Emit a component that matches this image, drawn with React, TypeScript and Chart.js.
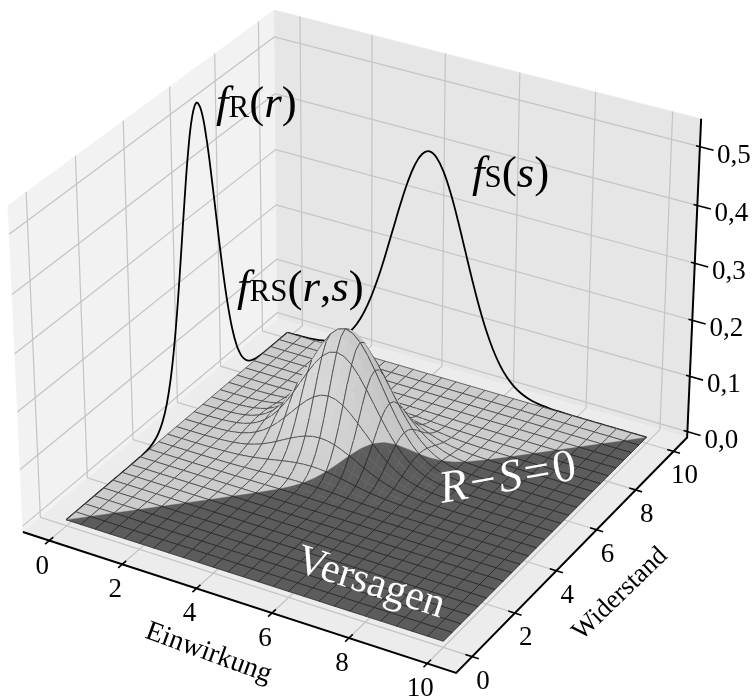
import React, { useEffect, useRef } from "react";
import { Chart, registerables } from "chart.js";

Chart.register(...registerables);

const WIDTH = 755;
const HEIGHT = 700;

const fR = [
  0, 0, 0, 0, 0, 0, 0, 0, 0, 0, 0, 0, 0, 0,
  0.0001, 0.0002, 0.0005, 0.0013, 0.0032, 0.0072,
  0.0152, 0.0299, 0.0546, 0.0931, 0.1479, 0.2187, 0.3012, 0.3862, 0.4614, 0.5133,
  0.5319, 0.5133, 0.4614, 0.3862, 0.3012, 0.2187, 0.1479, 0.0931, 0.0546, 0.0299,
  0.0152, 0.0072, 0.0032, 0.0013, 0.0005, 0.0002, 0.0001, 0, 0, 0, 0,
];
const fS = [
  0.0001, 0.0003, 0.0006, 0.0012, 0.0024, 0.0044, 0.0079, 0.0136, 0.0224, 0.0355,
  0.054, 0.079, 0.1109, 0.1497, 0.1942, 0.242, 0.2897, 0.3332, 0.3683, 0.391,
  0.3989, 0.391, 0.3683, 0.3332, 0.2897, 0.242, 0.1942, 0.1497, 0.1109, 0.079,
  0.054, 0.0355, 0.0224, 0.0136, 0.0079, 0.0044, 0.0024, 0.0012, 0.0006, 0.0003,
  0.0001, 0, 0, 0, 0, 0, 0, 0, 0, 0, 0,
];
const sampleStep = 0.2;

const xTicks = [0, 2, 4, 6, 8, 10];
const yTicks = [0, 2, 4, 6, 8, 10];
const zTicks = [0, 0.1, 0.2, 0.3, 0.4, 0.5];
const zTickLabels = ["0,0", "0,1", "0,2", "0,3", "0,4", "0,5"];

const xLim = [-0.729, 10.729];
const yLim = [-0.729, 10.729];
const zLim = [-0.0106, 0.547];

// View of the 3D box
const boxHalf = 0.5715;
const boxHalfZ = 0.4285;
const dist = 10;
const U = [0.866, 0.5, 0];
const V = [-0.25, 0.433, 0.866];
const N = [0.433, -0.75, 0.5];
const SCALE = 434.4;
const OX = 360.9;
const OY = 326.1;

const rel = (x: number, y: number, z: number) => [
  ((x - xLim[0]) / (xLim[1] - xLim[0])) * 2 * boxHalf - boxHalf,
  ((y - yLim[0]) / (yLim[1] - yLim[0])) * 2 * boxHalf - boxHalf,
  ((z - zLim[0]) / (zLim[1] - zLim[0])) * 2 * boxHalfZ - boxHalfZ,
];
const dot = (a: number[], b: number[]) => a[0] * b[0] + a[1] * b[1] + a[2] * b[2];
const depth = (x: number, y: number, z: number) => dot(rel(x, y, z), N);
const proj = (x: number, y: number, z: number) => {
  const p = rel(x, y, z);
  const w = 1 - dot(p, N) / dist;
  return { x: OX + (SCALE * dot(p, U)) / w, y: OY - (SCALE * dot(p, V)) / w };
};

type Pt = { x: number; y: number };

function lineDs(data: Pt[], color: string, width: number, extra: any = {}) {
  return {
    data,
    showLine: true,
    borderColor: color,
    borderWidth: width,
    pointRadius: 0,
    fill: false,
    clip: false,
    ...extra,
  };
}
function polyDs(data: Pt[], fill: string, stroke: string, width: number) {
  return lineDs(data, stroke, width, { fill: "shape", backgroundColor: fill, borderJoinStyle: "round" });
}

const GRID = "#c4c4c4";
const GRID_W = 1.2;
const LIGHT = 204;
const DARK = 92;
const EDGE = "rgba(20,20,20,0.72)";
const EDGE_W = 0.8;
const FLAT_LIMIT = 0.004;

function shadeOf(base: number, dzdx: number, dzdy: number) {
  const s = (0.667 * dzdx + 0.667 * dzdy + 0.333) / Math.sqrt(dzdx * dzdx + dzdy * dzdy + 1);
  const f = (0.3 + 0.35 * (s + 1)) / (0.3 + 0.35 * 1.333);
  const v = Math.round(Math.min(255, base * f));
  return `rgb(${v},${v},${v})`;
}

function buildDatasets() {
  const back: any[] = [];
  const [x0, x1] = xLim;
  const [y0, y1] = yLim;
  const [z0, z1] = zLim;
  // panes
  back.push(polyDs([proj(x0, y0, z0), proj(x0, y1, z0), proj(x0, y1, z1), proj(x0, y0, z1), proj(x0, y0, z0)], "#f2f2f2", "#f2f2f2", 0.5));
  back.push(polyDs([proj(x0, y1, z0), proj(x1, y1, z0), proj(x1, y1, z1), proj(x0, y1, z1), proj(x0, y1, z0)], "#e6e6e6", "#e6e6e6", 0.5));
  back.push(polyDs([proj(x0, y0, z0), proj(x1, y0, z0), proj(x1, y1, z0), proj(x0, y1, z0), proj(x0, y0, z0)], "#ececec", "#ececec", 0.5));
  // grid lines
  xTicks.forEach((t) => back.push(lineDs([proj(t, y0, z0), proj(t, y1, z0), proj(t, y1, z1)], GRID, GRID_W)));
  yTicks.forEach((t) => back.push(lineDs([proj(x1, t, z0), proj(x0, t, z0), proj(x0, t, z1)], GRID, GRID_W)));
  zTicks.forEach((t) => back.push(lineDs([proj(x0, y0, t), proj(x0, y1, t), proj(x1, y1, t)], GRID, GRID_W)));
  // axes
  back.push(lineDs([proj(x0, y0, z0), proj(x1, y0, z0), proj(x1, y1, z0), proj(x1, y1, z1)], "#000", 2, { borderJoinStyle: "miter" }));
  xTicks.forEach((t) => back.push(lineDs([proj(t, y0 - 0.17, z0), proj(t, y0 + 0.17, z0)], "#000", 1.6)));
  yTicks.forEach((t) => back.push(lineDs([proj(x1 - 0.17, t, z0), proj(x1 + 0.17, t, z0)], "#000", 1.6)));
  zTicks.forEach((t) => back.push(lineDs([proj(x1 - 0.1, y1, t), proj(x1 + 0.35, y1, t)], "#000", 1.6)));
  // marginal curves on the walls
  back.push(lineDs(fR.map((v, i) => proj(0, i * sampleStep, v)), "#000", 1.8, { tension: 0.4 }));
  back.push(lineDs(fS.map((v, i) => proj(i * sampleStep, 10, v)), "#000", 1.8, { tension: 0.4 }));

  // surface facets, painted from far to near; raised meshes are filled finely, drawn at every second sample
  const cells: { d: number; sets: any[] }[] = [];
  const Z = (i: number, j: number) => fS[i] * fR[j];
  const P = (i: number, j: number) => proj(i * sampleStep, j * sampleStep, Z(i, j));
  const addCell = (i: number, j: number, k: number) => {
    const h = sampleStep * k;
    const dzdx = (Z(i + k, j) + Z(i + k, j + k) - Z(i, j) - Z(i, j + k)) / (2 * h);
    const dzdy = (Z(i, j + k) + Z(i + k, j + k) - Z(i, j) - Z(i + k, j)) / (2 * h);
    const a = P(i, j), b = P(i + k, j), c = P(i + k, j + k), e = P(i, j + k);
    const d = depth((i + k / 2) * sampleStep, (j + k / 2) * sampleStep, (Z(i, j) + Z(i + k, j) + Z(i + k, j + k) + Z(i, j + k)) / 4);
    const sets: any[] = [];
    if (i === j) {
      const lc = shadeOf(LIGHT, dzdx, dzdy);
      const dc = shadeOf(DARK, dzdx, dzdy);
      sets.push(polyDs([a, c, e, a], lc, lc, 0.4));
      sets.push(polyDs([a, b, c, a], dc, dc, 0.4));
    } else {
      const col = shadeOf(i > j ? DARK : LIGHT, dzdx, dzdy);
      sets.push(polyDs([a, b, c, e, a], col, col, 0.4));
    }
    if (k === 2) {
      sets.push(lineDs([a, b, c, e, a], EDGE, EDGE_W));
    } else {
      // each fine facet carries the two mesh lines that run along its sides
      const ci = i % 2 === 0 ? i : i + 1;
      const cj = j % 2 === 0 ? j : j + 1;
      const oi = ci === i ? i + 1 : i;
      const oj = cj === j ? j + 1 : j;
      sets.push(lineDs([P(oi, cj), P(ci, cj), P(ci, oj)], EDGE, EDGE_W));
    }
    cells.push({ d, sets });
  };
  const last = fR.length - 1;
  for (let i = 0; i < last; i += 2) {
    for (let j = 0; j < last; j += 2) {
      const peak = Math.max(Z(i, j), Z(i + 1, j), Z(i + 2, j), Z(i, j + 1), Z(i + 1, j + 1), Z(i + 2, j + 1), Z(i, j + 2), Z(i + 1, j + 2), Z(i + 2, j + 2));
      if (peak < FLAT_LIMIT) {
        addCell(i, j, 2);
      } else {
        addCell(i, j, 1);
        addCell(i + 1, j, 1);
        addCell(i, j + 1, 1);
        addCell(i + 1, j + 1, 1);
      }
    }
  }
  cells.sort((p, q) => p.d - q.d);
  cells.forEach((c) => c.sets.forEach((s) => back.push(s)));
  // Chart.js paints the first dataset last
  return back.reverse();
}

type Run = { t: string; size: number; italic?: boolean; gap?: number };
type Label = { runs: Run[]; x: number; y: number; rot?: number; color?: string; align?: "left" | "center" };

const SERIF = '"Liberation Serif", "Times New Roman", serif';
const tickSize = 27;
const bigSize = 45;
const subSize = 31;

function buildLabels(): Label[] {
  const out: Label[] = [];
  const [, x1] = xLim;
  const [y0] = yLim;
  const z0 = zLim[0];
  const y1 = yLim[1];
  xTicks.forEach((t) => {
    const p = proj(t, y0, z0);
    out.push({ runs: [{ t: String(t), size: tickSize }], x: p.x - 7, y: p.y + 33, align: "center" });
  });
  yTicks.forEach((t) => {
    const p = proj(x1, t, z0);
    out.push({ runs: [{ t: String(t), size: tickSize }], x: p.x + 11, y: p.y + 32, align: "center" });
  });
  zTicks.forEach((t, i) => {
    const p = proj(x1, y1, t);
    out.push({ runs: [{ t: zTickLabels[i], size: tickSize }], x: p.x + 34, y: p.y + 16, align: "center" });
  });
  out.push({ runs: [{ t: "Einwirkung", size: 28 }], x: 206, y: 660, rot: 20, align: "center" });
  out.push({ runs: [{ t: "Widerstand", size: 26.5 }], x: 625, y: 599, rot: -44, align: "center" });
  out.push({ runs: [{ t: "f", size: bigSize, italic: true }, { t: "R", size: subSize }, { t: "(", size: bigSize }, { t: "r", size: bigSize, italic: true }, { t: ")", size: bigSize }], x: 216, y: 117 });
  out.push({ runs: [{ t: "f", size: bigSize, italic: true }, { t: "S", size: subSize }, { t: "(", size: bigSize }, { t: "s", size: bigSize, italic: true }, { t: ")", size: bigSize }], x: 472, y: 187 });
  out.push({ runs: [{ t: "f", size: bigSize, italic: true }, { t: "RS", size: subSize }, { t: "(", size: bigSize }, { t: "r", size: bigSize, italic: true }, { t: ",", size: bigSize }, { t: "s", size: bigSize, italic: true }, { t: ")", size: bigSize }], x: 237, y: 301 });
  out.push({ runs: [{ t: "Versagen", size: 42 }], x: 367, y: 594, rot: 18, color: "#fff", align: "center" });
  out.push({ runs: [{ t: "R", size: 46, italic: true, gap: 3 }, { t: "−", size: 46, gap: 3 }, { t: "S", size: 46, italic: true, gap: 3 }, { t: "=", size: 46, gap: 3 }, { t: "0", size: 46 }], x: 510, y: 491, rot: -10, color: "#fff", align: "center" });
  return out;
}

const labelPlugin = {
  id: "labels3d",
  afterDatasetsDraw(chart: any) {
    const { ctx, scales } = chart;
    ctx.save();
    ctx.textBaseline = "alphabetic";
    ctx.textAlign = "left";
    buildLabels().forEach((l) => {
      ctx.save();
      ctx.translate(scales.x.getPixelForValue(l.x), scales.y.getPixelForValue(l.y));
      ctx.rotate(((l.rot ?? 0) * Math.PI) / 180);
      ctx.fillStyle = l.color ?? "#000";
      const fontOf = (r: Run) => `${r.italic ? "italic " : ""}${r.size}px ${SERIF}`;
      let width = 0;
      l.runs.forEach((r) => {
        ctx.font = fontOf(r);
        width += ctx.measureText(r.t).width + (r.gap ?? 0);
      });
      let cx = l.align === "center" ? -width / 2 : 0;
      l.runs.forEach((r) => {
        ctx.font = fontOf(r);
        ctx.fillText(r.t, cx, 0);
        cx += ctx.measureText(r.t).width + (r.gap ?? 0);
      });
      ctx.restore();
    });
    ctx.restore();
  },
};

export default function App() {
  const ref = useRef<HTMLCanvasElement | null>(null);
  useEffect(() => {
    if (!ref.current) return;
    const chart = new Chart(ref.current, {
      type: "scatter",
      data: { datasets: buildDatasets() },
      options: {
        animation: false,
        responsive: false,
        maintainAspectRatio: false,
        events: [],
        layout: { padding: 0 },
        plugins: { legend: { display: false }, tooltip: { enabled: false }, title: { display: false } },
        scales: {
          x: { type: "linear", min: 0, max: WIDTH, display: false },
          y: { type: "linear", min: 0, max: HEIGHT, reverse: true, display: false },
        },
      },
      plugins: [labelPlugin],
    } as any);
    return () => chart.destroy();
  }, []);
  return (
    <div style={{ position: "fixed", left: 0, top: 0, width: WIDTH, height: HEIGHT, background: "#fff" }}>
      <canvas ref={ref} width={WIDTH} height={HEIGHT} style={{ display: "block", filter: "blur(0.45px)" }} />
    </div>
  );
}
